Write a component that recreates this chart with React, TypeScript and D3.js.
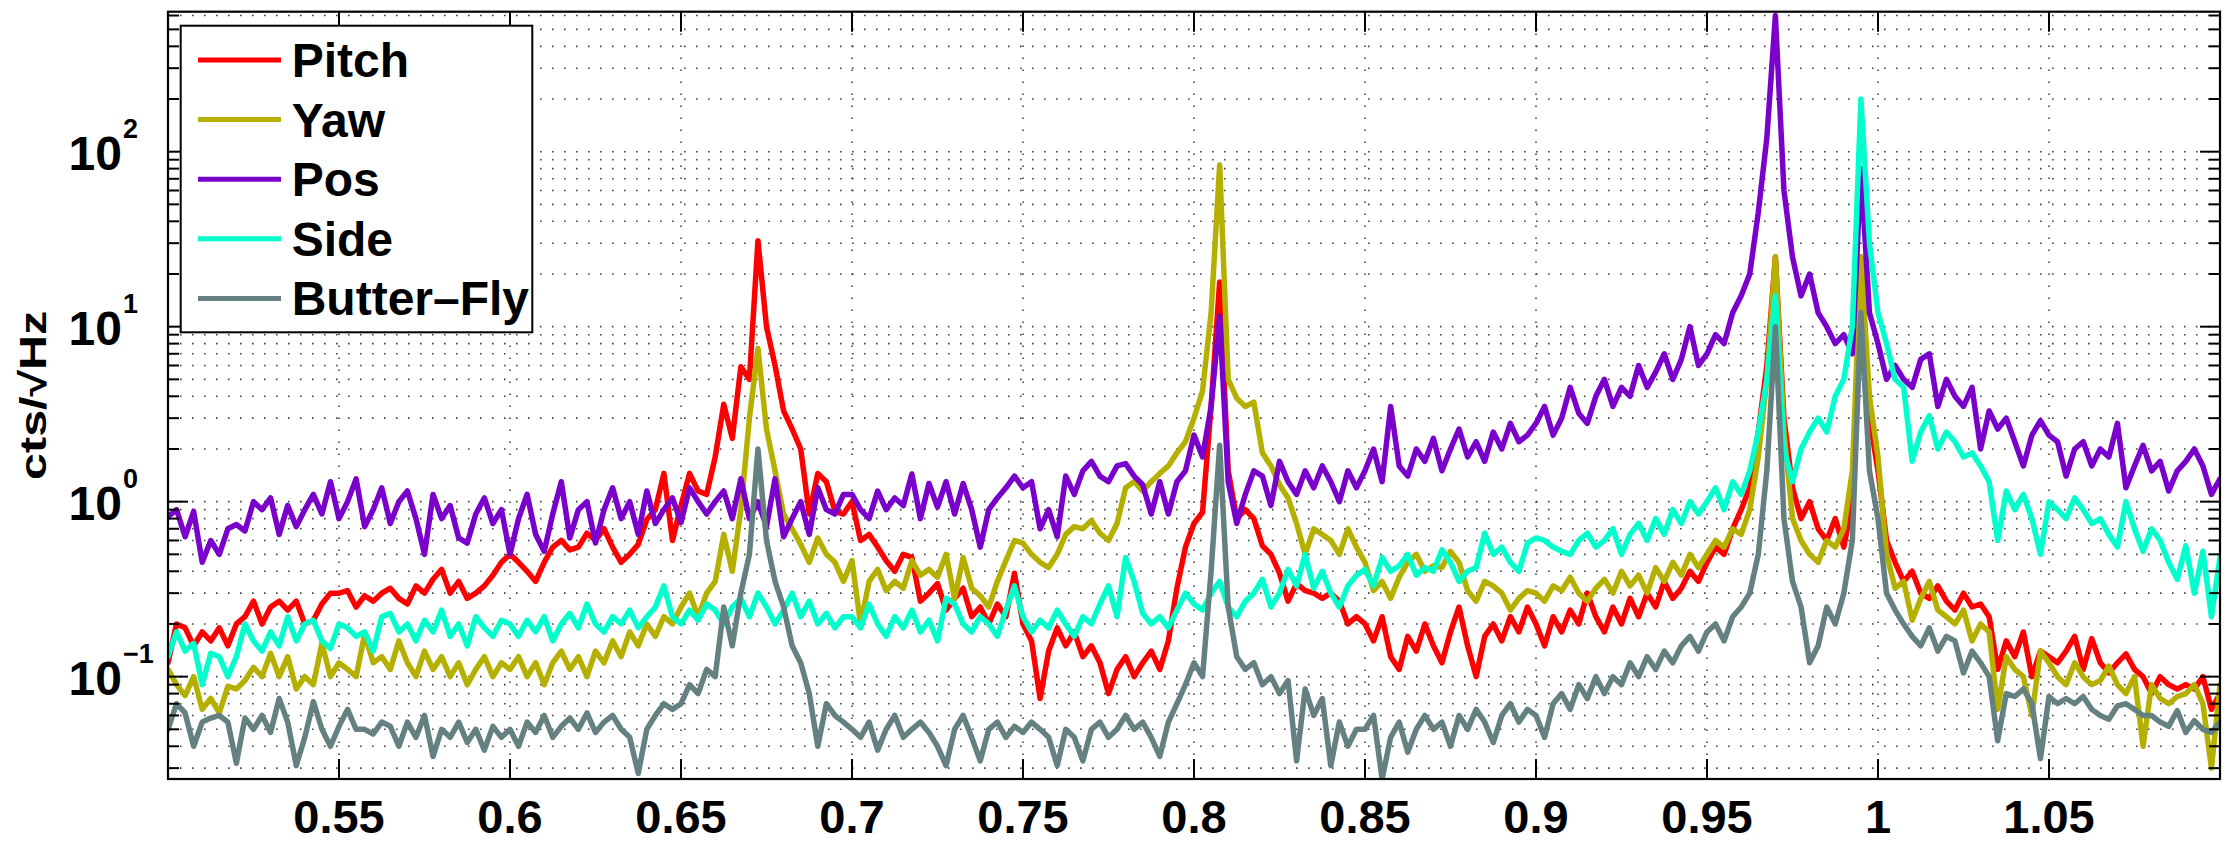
import React from 'react';
import * as d3 from 'd3';

// Frequency grid (Hz): evenly sampled spectrum from 0.5 to 1.1
const F_START = 0.5;
const F_STEP = 0.0025;

const PITCH = [
  0.12, 0.2, 0.19, 0.15, 0.18, 0.16, 0.19, 0.15, 0.2, 0.22, 0.27, 0.2, 0.25, 0.27, 0.24, 0.27, 0.2, 0.21, 0.26, 0.3,
  0.3, 0.31, 0.25, 0.29, 0.27, 0.3, 0.32, 0.28, 0.26, 0.33, 0.3, 0.36, 0.41, 0.3, 0.35, 0.28, 0.3, 0.33, 0.38, 0.45,
  0.5, 0.45, 0.4, 0.35, 0.45, 0.55, 0.6, 0.53, 0.55, 0.66, 0.6, 0.7, 0.55, 0.45, 0.5, 0.57, 0.79, 0.9, 1.45, 0.6,
  0.95, 1.45, 1.15, 1.1, 1.8, 3.6, 2.3, 5.9, 5.0, 31, 10, 6, 3.3, 2.6, 2.0, 0.85, 1.45, 1.3, 0.88, 0.85,
  1.0, 0.6, 0.65, 0.55, 0.46, 0.4, 0.5, 0.48, 0.27, 0.3, 0.34, 0.24, 0.28, 0.32, 0.22, 0.25, 0.2, 0.26, 0.22, 0.39,
  0.2, 0.16, 0.075, 0.14, 0.19, 0.15, 0.18, 0.13, 0.15, 0.12, 0.08, 0.11, 0.13, 0.1, 0.12, 0.14, 0.11, 0.16, 0.32, 0.55,
  0.75, 0.87, 3.5, 18, 1.5, 0.8, 0.9, 0.8, 0.56, 0.5, 0.39, 0.27, 0.34, 0.31, 0.3, 0.28, 0.3, 0.27, 0.2, 0.22,
  0.2, 0.16, 0.22, 0.13, 0.11, 0.17, 0.14, 0.2, 0.15, 0.12, 0.18, 0.25, 0.15, 0.1, 0.17, 0.2, 0.16, 0.22, 0.18, 0.25,
  0.2, 0.15, 0.22, 0.18, 0.24, 0.2, 0.3, 0.22, 0.18, 0.25, 0.2, 0.28, 0.22, 0.3, 0.25, 0.35, 0.28, 0.32, 0.4, 0.35,
  0.45, 0.55, 0.5, 0.7, 0.9, 1.2, 2.5, 6, 25, 3, 1.2, 0.8, 1.0, 0.7, 0.6, 0.8, 0.55, 1.0, 25, 3,
  1.5, 0.6, 0.45, 0.35, 0.4, 0.3, 0.28, 0.33, 0.27, 0.24, 0.3, 0.25, 0.26, 0.22, 0.11, 0.16, 0.13, 0.18, 0.1, 0.14,
  0.13, 0.12, 0.14, 0.17, 0.11, 0.165, 0.12, 0.105, 0.12, 0.135, 0.11, 0.1, 0.08, 0.1, 0.09, 0.085, 0.09, 0.085, 0.1, 0.065,
  0.08,
];

const YAW = [
  0.11, 0.09, 0.078, 0.1, 0.065, 0.075, 0.062, 0.088, 0.085, 0.095, 0.113, 0.1, 0.136, 0.1, 0.13, 0.085, 0.1, 0.09, 0.155, 0.1,
  0.12, 0.11, 0.1, 0.175, 0.12, 0.13, 0.11, 0.16, 0.12, 0.1, 0.14, 0.11, 0.13, 0.1, 0.12, 0.09, 0.11, 0.13, 0.1, 0.12,
  0.11, 0.13, 0.1, 0.12, 0.09, 0.12, 0.14, 0.11, 0.13, 0.1, 0.14, 0.12, 0.16, 0.13, 0.18, 0.15, 0.2, 0.17, 0.22, 0.2,
  0.25, 0.3, 0.22, 0.3, 0.35, 0.65, 0.4, 0.9, 3.0, 7.5, 2.6, 1.5, 0.85, 0.7, 0.57, 0.45, 0.62, 0.5, 0.45, 0.35,
  0.46, 0.2, 0.35, 0.41, 0.31, 0.35, 0.32, 0.46, 0.38, 0.41, 0.37, 0.5, 0.28, 0.48, 0.32, 0.29, 0.25, 0.35, 0.46, 0.6,
  0.58, 0.5, 0.45, 0.42, 0.5, 0.65, 0.72, 0.7, 0.78, 0.66, 0.6, 0.75, 1.2, 1.3, 1.15, 1.3, 1.45, 1.6, 1.9, 2.2,
  3.0, 4.3, 12, 84, 5, 3.9, 3.5, 3.7, 1.9, 1.6, 1.25, 1.05, 0.75, 0.5, 0.7, 0.65, 0.6, 0.5, 0.7, 0.55,
  0.45, 0.31, 0.35, 0.28, 0.37, 0.45, 0.5, 0.4, 0.43, 0.42, 0.52, 0.45, 0.31, 0.27, 0.35, 0.33, 0.3, 0.24, 0.28, 0.31,
  0.3, 0.27, 0.33, 0.31, 0.37, 0.3, 0.27, 0.32, 0.36, 0.3, 0.4, 0.33, 0.38, 0.3, 0.42, 0.35, 0.45, 0.38, 0.5, 0.42,
  0.5, 0.6, 0.55, 0.7, 0.65, 0.9, 1.8, 5, 25, 2.5, 0.8, 0.6, 0.5, 0.45, 0.6, 0.55, 0.7, 1.5, 25, 4,
  1.8, 0.5, 0.32, 0.35, 0.21, 0.28, 0.35, 0.24, 0.22, 0.2, 0.24, 0.16, 0.2, 0.18, 0.065, 0.13, 0.11, 0.1, 0.06, 0.14,
  0.12, 0.1, 0.09, 0.12, 0.1, 0.09, 0.095, 0.115, 0.09, 0.08, 0.1, 0.04, 0.09, 0.075, 0.07, 0.077, 0.08, 0.09, 0.07, 0.03,
  0.09,
];

const POS = [
  0.82, 0.9, 0.63, 0.88, 0.45, 0.6, 0.5, 0.7, 0.74, 0.68, 1.0, 0.9, 1.05, 0.65, 0.95, 0.72, 0.9, 1.1, 0.85, 1.3,
  0.8, 1.0, 1.35, 0.72, 0.9, 1.2, 0.75, 1.0, 1.15, 0.8, 0.5, 1.1, 0.8, 0.95, 0.62, 0.58, 0.85, 1.05, 0.75, 0.9,
  0.5, 0.8, 1.1, 0.65, 0.52, 0.85, 1.3, 0.62, 0.9, 1.0, 0.58, 0.9, 1.2, 0.8, 1.0, 0.65, 1.15, 0.75, 0.9, 1.05,
  0.76, 1.2, 1.0, 0.85, 1.0, 1.15, 0.8, 1.35, 0.8, 1.0, 0.72, 1.35, 0.63, 0.8, 1.0, 0.65, 1.2, 0.9, 0.85, 1.1,
  1.1, 0.9, 0.8, 1.15, 0.9, 1.05, 0.95, 1.44, 0.8, 1.27, 0.93, 1.3, 0.85, 1.27, 0.9, 0.55, 0.9, 1.05, 1.2, 1.4,
  1.2, 1.3, 0.7, 0.9, 0.63, 1.4, 1.1, 1.5, 1.7, 1.4, 1.3, 1.6, 1.65, 1.4, 1.25, 0.85, 1.3, 0.85, 1.3, 1.5,
  2.4, 1.8, 3.5, 11.5, 1.3, 0.75, 1.1, 1.5, 1.4, 0.95, 1.7, 1.3, 1.1, 1.5, 1.2, 1.6, 1.3, 1.0, 1.5, 1.2,
  1.5, 2.0, 1.3, 3.5, 1.6, 1.4, 2.0, 1.7, 2.3, 1.5, 2.0, 2.6, 1.8, 2.2, 1.7, 2.5, 2.0, 2.8, 2.2, 2.4,
  2.8, 3.5, 2.4, 3.0, 4.5, 3.2, 2.8, 4.0, 5.0, 3.5, 4.5, 4.0, 6.0, 4.5, 5.5, 7.0, 5.0, 6.5, 10.0, 6.0,
  7, 9, 8, 12, 15, 20, 45, 120, 600, 60, 25, 15, 20, 12, 10, 8, 9, 7, 80, 12,
  8, 5, 6, 5, 4.5, 6.5, 7, 3.5, 5, 4, 3.5, 4.5, 2, 3.3, 2.6, 3.0, 2.2, 1.6, 2.4, 2.9,
  2.4, 2.2, 1.4, 2.0, 2.2, 1.6, 2.0, 1.8, 2.8, 1.2, 1.6, 2.1, 1.5, 1.7, 1.15, 1.5, 1.7, 2.0, 1.6, 1.1,
  1.35,
];

const SIDE = [
  0.13, 0.18, 0.14, 0.155, 0.09, 0.136, 0.13, 0.1, 0.13, 0.2, 0.16, 0.14, 0.18, 0.15, 0.22, 0.16, 0.2, 0.21, 0.16, 0.145,
  0.2, 0.19, 0.17, 0.18, 0.14, 0.22, 0.23, 0.18, 0.2, 0.16, 0.21, 0.18, 0.24, 0.17, 0.2, 0.15, 0.22, 0.19, 0.17, 0.21,
  0.2, 0.17, 0.21, 0.18, 0.22, 0.16, 0.2, 0.23, 0.19, 0.26, 0.2, 0.18, 0.22, 0.2, 0.24, 0.19, 0.22, 0.25, 0.33, 0.22,
  0.2, 0.24, 0.21, 0.26, 0.24, 0.2, 0.25, 0.28, 0.22, 0.3, 0.25, 0.2, 0.24, 0.3, 0.22, 0.27, 0.2, 0.23, 0.19, 0.22,
  0.22, 0.19, 0.26, 0.2, 0.17, 0.22, 0.19, 0.24, 0.18, 0.21, 0.16, 0.28, 0.26, 0.2, 0.18, 0.22, 0.2, 0.17, 0.24, 0.33,
  0.22, 0.18, 0.21, 0.19, 0.24, 0.2, 0.17, 0.22, 0.2, 0.26, 0.33, 0.22, 0.48, 0.35, 0.23, 0.2, 0.22, 0.19, 0.24, 0.3,
  0.26, 0.24, 0.3, 0.35, 0.25, 0.22, 0.27, 0.3, 0.36, 0.25, 0.3, 0.41, 0.33, 0.5, 0.32, 0.4, 0.3, 0.25, 0.33, 0.38,
  0.41, 0.33, 0.48, 0.4, 0.43, 0.5, 0.38, 0.42, 0.4, 0.53, 0.45, 0.35, 0.4, 0.42, 0.66, 0.5, 0.55, 0.45, 0.4, 0.58,
  0.62, 0.6, 0.55, 0.52, 0.5, 0.6, 0.66, 0.55, 0.6, 0.7, 0.5, 0.65, 0.75, 0.6, 0.8, 0.65, 0.9, 0.75, 1.0, 0.85,
  1.0, 1.2, 0.9, 1.3, 1.1, 1.5, 2.5, 5, 15, 2.0, 1.3, 2.0, 2.5, 3.0, 2.5, 4.0, 5, 10, 200, 30,
  12, 8, 5, 4.5, 1.7, 2.5, 3.1, 2.0, 2.5, 2.2, 1.8, 1.9, 1.6, 1.3, 0.6, 1.15, 0.9, 1.1, 0.8, 0.5,
  1.0, 0.9, 0.8, 1.05, 0.9, 0.75, 0.8, 0.65, 0.55, 1.0, 0.7, 0.52, 0.7, 0.6, 0.45, 0.36, 0.56, 0.3, 0.52, 0.22,
  0.48,
];

const BUTTERFLY = [
  0.05, 0.07, 0.062, 0.04, 0.055, 0.058, 0.06, 0.055, 0.032, 0.058, 0.05, 0.06, 0.048, 0.075, 0.055, 0.031, 0.045, 0.072, 0.05, 0.04,
  0.052, 0.065, 0.05, 0.05, 0.047, 0.055, 0.052, 0.04, 0.055, 0.045, 0.06, 0.035, 0.05, 0.045, 0.055, 0.042, 0.05, 0.038, 0.052, 0.045,
  0.05, 0.04, 0.055, 0.048, 0.06, 0.045, 0.052, 0.058, 0.05, 0.062, 0.048, 0.055, 0.06, 0.05, 0.045, 0.028, 0.05, 0.06, 0.07, 0.065,
  0.07, 0.09, 0.08, 0.11, 0.1, 0.25, 0.15, 0.3, 0.5, 2.0, 0.6, 0.35, 0.25, 0.15, 0.12, 0.08, 0.04, 0.07, 0.06, 0.055,
  0.05, 0.045, 0.055, 0.038, 0.05, 0.06, 0.045, 0.05, 0.055, 0.048, 0.04, 0.031, 0.05, 0.06, 0.045, 0.033, 0.05, 0.055, 0.045, 0.052,
  0.048, 0.055, 0.05, 0.045, 0.031, 0.05, 0.045, 0.033, 0.05, 0.055, 0.045, 0.05, 0.06, 0.05, 0.055, 0.045, 0.035, 0.055, 0.07, 0.09,
  0.12, 0.1, 0.4, 2.1, 0.25, 0.13, 0.11, 0.12, 0.09, 0.1, 0.08, 0.095, 0.033, 0.085, 0.06, 0.075, 0.031, 0.055, 0.04, 0.05,
  0.05, 0.06, 0.026, 0.045, 0.055, 0.037, 0.05, 0.06, 0.05, 0.055, 0.04, 0.06, 0.05, 0.065, 0.055, 0.042, 0.06, 0.07, 0.055, 0.065,
  0.06, 0.045, 0.07, 0.08, 0.065, 0.09, 0.075, 0.1, 0.08, 0.1, 0.09, 0.12, 0.1, 0.13, 0.11, 0.14, 0.12, 0.15, 0.17, 0.14,
  0.18, 0.2, 0.16, 0.22, 0.25, 0.3, 0.5, 1.5, 10, 0.8, 0.35, 0.25, 0.12, 0.15, 0.25, 0.2, 0.3, 0.6, 12, 1.5,
  0.8, 0.3, 0.24, 0.2, 0.17, 0.15, 0.19, 0.14, 0.17, 0.16, 0.105, 0.14, 0.12, 0.1, 0.043, 0.08, 0.077, 0.085, 0.07, 0.034,
  0.077, 0.07, 0.075, 0.07, 0.077, 0.065, 0.06, 0.057, 0.068, 0.07, 0.065, 0.06, 0.06, 0.055, 0.052, 0.064, 0.048, 0.056, 0.05, 0.048,
  0.055,
];

const SERIES_NAMES = ['Pitch', 'Yaw', 'Pos', 'Side', 'Butter\u2013Fly'];
const SERIES_VALUES = [PITCH, YAW, POS, SIDE, BUTTERFLY];
const SERIES_COLORS = ['#ff0000', '#b5b000', '#7a00cc', '#00ffcc', '#648080'];

const X_TICKS = [0.55, 0.6, 0.65, 0.7, 0.75, 0.8, 0.85, 0.9, 0.95, 1, 1.05];
const X_TICK_LABELS = ['0.55', '0.6', '0.65', '0.7', '0.75', '0.8', '0.85', '0.9', '0.95', '1', '1.05'];
const Y_DECADES = [-1, 0, 1, 2];
const Y_EXP_LABELS = ['\u22121', '0', '1', '2'];
const X_DOMAIN = [0.5, 1.1];
const Y_DOMAIN_LOG = [-1.585, 2.8];
const Y_LABEL = 'cts/\u221AHz';

const FONT = "'Liberation Sans', Arial, Helvetica, sans-serif";

export default function App() {
  const W = 2229, H = 843;
  const L = 168, R = 2220, T = 11.7, B = 779;

  const x = d3.scaleLinear().domain(X_DOMAIN).range([L, R]);
  const y = d3.scaleLog().domain([Math.pow(10, Y_DOMAIN_LOG[0]), Math.pow(10, Y_DOMAIN_LOG[1])]).range([B, T]);

  const freqs = d3.range(PITCH.length).map((i) => F_START + F_STEP * i);

  const lineGen = d3
    .line<number>()
    .x((_, i) => x(freqs[i]))
    .y((d) => y(d));

  const [yMin, yMax] = y.domain();
  const minorVals: number[] = [];
  for (let e = -2; e <= 2; e++) {
    for (let k = 1; k <= 9; k++) {
      const v = k * Math.pow(10, e);
      if (v >= yMin && v <= yMax) minorVals.push(v);
    }
  }

  const dots = '1.6 10.4';

  return (
    <svg
      width={W}
      height={H}
      style={{ position: 'absolute', left: 0, top: 0, background: '#fff' }}
      fontFamily={FONT}
    >
      <defs>
        <clipPath id="plotclip">
          <rect x={L} y={T} width={R - L} height={B - T} />
        </clipPath>
      </defs>
      <rect x={0} y={0} width={W} height={H} fill="#fff" />

      {/* grid */}
      <g stroke="#444" strokeWidth={1.6} strokeDasharray={dots} fill="none">
        {minorVals.map((v, i) => (
          <line key={'hg' + i} x1={L} x2={R} y1={y(v)} y2={y(v)} />
        ))}
        {X_TICKS.map((t, i) => (
          <line key={'vg' + i} x1={x(t)} x2={x(t)} y1={B} y2={T} />
        ))}
      </g>

      {/* data */}
      <g clipPath="url(#plotclip)" fill="none" strokeLinejoin="round" strokeLinecap="round">
        {SERIES_VALUES.map((vals, si) => (
          <path key={si} d={lineGen(vals) || ''} stroke={SERIES_COLORS[si]} strokeWidth={5.5} />
        ))}
      </g>

      {/* ticks */}
      <g stroke="#000" strokeWidth={2}>
        {X_TICKS.map((t, i) => (
          <g key={'xt' + i}>
            <line x1={x(t)} x2={x(t)} y1={B} y2={B - 20} />
            <line x1={x(t)} x2={x(t)} y1={T} y2={T + 20} />
          </g>
        ))}
        {minorVals.map((v, i) => {
          const major = Math.abs(Math.log10(v) - Math.round(Math.log10(v))) < 1e-9;
          const len = major ? 20 : 11;
          return (
            <g key={'yt' + i}>
              <line x1={L} x2={L + len} y1={y(v)} y2={y(v)} />
              <line x1={R} x2={R - len} y1={y(v)} y2={y(v)} />
            </g>
          );
        })}
      </g>

      {/* axes box */}
      <rect x={L} y={T} width={R - L} height={B - T} fill="none" stroke="#000" strokeWidth={2.2} />

      {/* x tick labels */}
      <g fontSize={47} fontWeight="bold" textAnchor="middle" fill="#000">
        {X_TICKS.map((t, i) => (
          <text key={'xl' + i} x={x(t)} y={833}>
            {X_TICK_LABELS[i]}
          </text>
        ))}
      </g>

      {/* y tick labels */}
      <g fontWeight="bold" fill="#000">
        {Y_DECADES.map((e, i) => {
          const yy = y(Math.pow(10, e));
          return (
            <g key={'yl' + i}>
              <text x={122} y={yy + 18.5} fontSize={48} textAnchor="end">
                10
              </text>
              <text x={123} y={yy - 14} fontSize={27} textAnchor="start">
                {Y_EXP_LABELS[i]}
              </text>
            </g>
          );
        })}
      </g>

      {/* y axis label */}
      <text
        transform={`translate(46, ${(T + B) / 2}) rotate(-90) scale(1.1, 0.84)`}
        textAnchor="middle"
        fontSize={44}
        fontWeight="bold"
        fill="#000"
      >
        {Y_LABEL}
      </text>

      {/* legend */}
      <g>
        <rect x={180.7} y={25.7} width={351.6} height={306.6} fill="#fff" stroke="#000" strokeWidth={2} />
        {SERIES_NAMES.map((name, i) => {
          const ly = 60 + i * 59.6;
          return (
            <g key={'lg' + i}>
              <line x1={198} x2={281} y1={ly} y2={ly} stroke={SERIES_COLORS[i]} strokeWidth={5} />
              <text x={291.7} y={ly + 17} fontSize={48} fontWeight="bold" fill="#000">
                {name}
              </text>
            </g>
          );
        })}
      </g>
    </svg>
  );
}
